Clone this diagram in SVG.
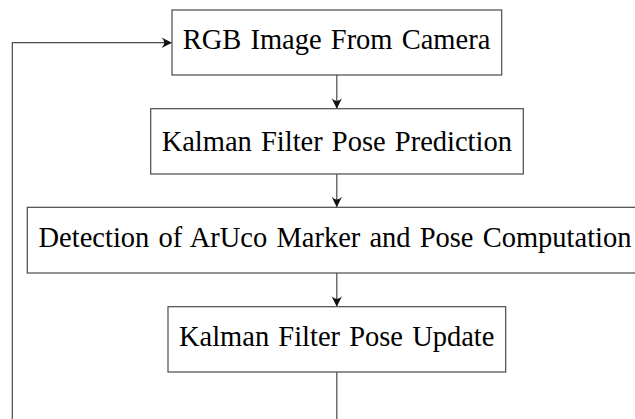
<svg xmlns="http://www.w3.org/2000/svg" width="635" height="419" viewBox="0 0 635 419">
  <style>
    .box { fill: #ffffff; stroke: #4a4a4a; stroke-width: 1.2; }
    .lbl { font-family: "Liberation Serif", "Times New Roman", serif; font-size: 28.5px; word-spacing: 2px; fill: #000000; text-anchor: middle; }
    .edge { fill: none; stroke: #4a4a4a; stroke-width: 1.2; }
  </style>
  <defs>
    <marker id="arr" markerUnits="userSpaceOnUse" markerWidth="14" markerHeight="14" viewBox="-12 -7 13 14" refX="0" refY="0" orient="auto">
      <path d="M0.5,0 L-10,-5.2 Q-4.5,0 -10,5.2 Z" fill="#111111"/>
    </marker>
  </defs>
  <rect width="635" height="419" fill="#ffffff"/>
  <g id="connectors">
    <line class="edge" x1="336.8" y1="75" x2="336.8" y2="108.2" marker-end="url(#arr)"/>
    <line class="edge" x1="336.8" y1="174" x2="336.8" y2="206.8" marker-end="url(#arr)"/>
    <line class="edge" x1="336.8" y1="273" x2="336.8" y2="306.2" marker-end="url(#arr)"/>
    <line class="edge" x1="336.8" y1="372" x2="336.8" y2="419"/>
    <polyline class="edge" points="12.3,419 12.3,42.7 171.5,42.7" marker-end="url(#arr)"/>
  </g>
  <g id="node-rgb">
    <rect class="box" x="172" y="10" width="329.7" height="65"/>
    <text class="lbl" x="336.5" y="49.3">RGB Image From Camera</text>
  </g>
  <g id="node-predict">
    <rect class="box" x="150.7" y="108.7" width="372.6" height="65.3"/>
    <text class="lbl" x="336.8" y="150.7">Kalman Filter Pose Prediction</text>
  </g>
  <g id="node-detect">
    <rect class="box" x="27.3" y="207.3" width="619" height="65.7"/>
    <text class="lbl" x="335" y="246.7">Detection of ArUco Marker and Pose Computation</text>
  </g>
  <g id="node-update">
    <rect class="box" x="168" y="306.7" width="337.7" height="65.3"/>
    <text class="lbl" x="336.7" y="345.7">Kalman Filter Pose Update</text>
  </g>
</svg>
